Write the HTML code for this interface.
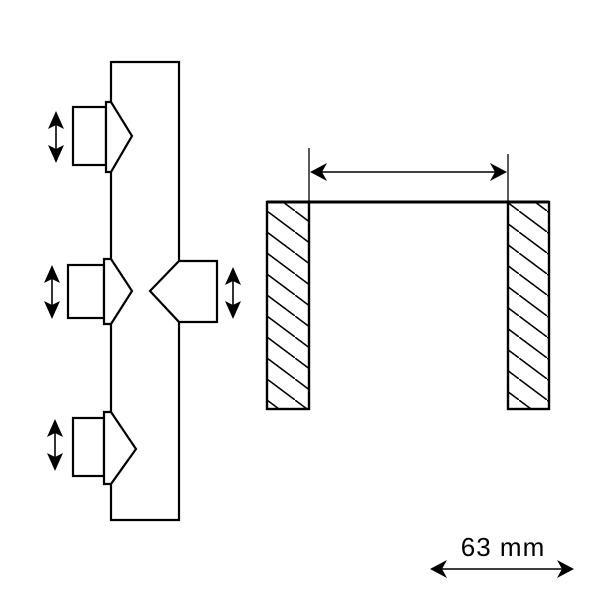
<!DOCTYPE html>
<html><head><style>html,body{margin:0;padding:0;background:#fff}</style></head>
<body>
<svg width="600" height="600" viewBox="0 0 600 600" xmlns="http://www.w3.org/2000/svg">
<defs>
<pattern id="h" patternUnits="userSpaceOnUse" x="267" y="190" width="28" height="21">
<line x1="-2" y1="-1.5" x2="30" y2="22.5" stroke="#000" stroke-width="1.5"/>
</pattern>
</defs>
<g fill="none" stroke="#000" stroke-width="2.2">
<path d="M111,102 V62 H179 V261 M179,322 V520 H111 V484 M111,412 V324 M111,259 V172"/>
<rect x="73" y="107" width="33" height="58" fill="#fff"/>
<path d="M106,102 H111 L132,136 L111,172 H106 Z" fill="#fff"/>
<rect x="68" y="265" width="36" height="53" fill="#fff"/>
<path d="M104,259 H111 L132,291 L111,324 H104 Z" fill="#fff"/>
<path d="M179,261 H217 V322 H179 L150,291 Z" fill="#fff"/>
<rect x="73" y="418" width="31" height="58" fill="#fff"/>
<path d="M104,412 H111 L136,449 L111,484 H104 Z" fill="#fff"/>
</g>
<g fill="#000">
<g stroke="#000" stroke-width="1.6">
<line x1="56" y1="118" x2="56" y2="156"/>
<line x1="52" y1="272" x2="52" y2="312"/>
<line x1="233" y1="274" x2="233" y2="312"/>
<line x1="55" y1="426" x2="55" y2="464"/>
<line x1="314" y1="172" x2="503" y2="172"/>
<line x1="436" y1="569" x2="568" y2="569"/>
</g>
<path d="M56,111 L64,129 L56,125 L48,129 Z M56,163 L64,145 L56,149 L48,145 Z"/>
<path d="M52,265 L60,283 L52,279 L44,283 Z M52,319 L60,301 L52,305 L44,301 Z"/>
<path d="M233,267 L241,285 L233,281 L225,285 Z M233,319 L241,301 L233,305 L225,301 Z"/>
<path d="M55,419 L63,437 L55,433 L47,437 Z M55,471 L63,453 L55,457 L47,453 Z"/>
<path d="M310,172 L327,163 L322,172 L327,181 Z M507,172 L490,163 L495,172 L490,181 Z"/>
<path d="M430,569 L447,560 L442,569 L447,578 Z M574,569 L557,560 L562,569 L557,578 Z"/>
</g>
<rect x="267" y="202" width="42" height="207" fill="url(#h)" stroke="#000" stroke-width="2.4"/>
<rect x="508" y="202" width="41" height="207" fill="url(#h)" stroke="#000" stroke-width="2.4"/>
<line x1="267" y1="202" x2="549" y2="202" stroke="#000" stroke-width="3"/>
<line x1="309" y1="148" x2="309" y2="202" stroke="#000" stroke-width="1.3"/>
<line x1="508" y1="154" x2="508" y2="202" stroke="#000" stroke-width="1.3"/>
<text x="503" y="556" text-anchor="middle" style="font-family:'Liberation Sans',Arial,sans-serif;font-size:26px;letter-spacing:1px">63 mm</text>
</svg>
</body></html>
